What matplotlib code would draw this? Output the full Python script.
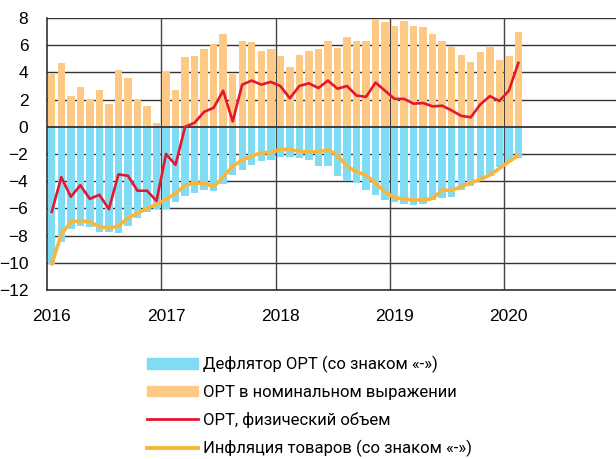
import numpy as np
import matplotlib
matplotlib.use('Agg')
from matplotlib import pyplot as plt
from matplotlib.patches import Patch
from matplotlib.lines import Line2D

# monthly data, Jan 2016 .. Feb 2020
nominal = [3.9, 4.7, 2.3, 2.9, 2.0, 2.7, 1.7, 4.2, 3.6, 2.0, 1.5, 0.3,
           4.0, 2.7, 5.1, 5.2, 5.7, 6.1, 6.8, 3.9, 6.3, 6.2, 5.6, 5.7,
           5.2, 4.4, 5.3, 5.6, 5.7, 6.3, 5.8, 6.6, 6.3, 6.3, 7.95, 7.7,
           7.4, 7.75, 7.4, 7.35, 6.8, 6.3, 5.9, 5.25, 4.8, 5.5, 5.85, 4.9,
           5.2, 7.0]
deflator = [-10.1, -8.5, -7.5, -7.3, -7.35, -7.7, -7.7, -7.8, -7.3, -6.7, -6.3, -6.05,
            -6.05, -5.5, -5.1, -4.9, -4.65, -4.7, -4.2, -3.55, -3.2, -2.8, -2.5, -2.45,
            -2.2, -2.25, -2.3, -2.45, -2.85, -2.9, -3.6, -4.0, -4.1, -4.65, -5.0, -5.4,
            -5.5, -5.65, -5.75, -5.7, -5.4, -5.25, -5.15, -4.65, -4.35, -3.9, -3.6, -2.95,
            -2.5, -2.3]
volume = [-6.25, -3.7, -5.15, -4.3, -5.3, -5.0, -6.05, -3.5, -3.6, -4.7, -4.7, -5.45,
          -2.0, -2.8, 0.0, 0.3, 1.1, 1.4, 2.65, 0.4, 3.1, 3.4, 3.1, 3.3,
          3.0, 2.1, 3.0, 3.2, 2.85, 3.4, 2.8, 3.0, 2.3, 2.2, 3.25, 2.65,
          2.05, 2.05, 1.7, 1.75, 1.5, 1.55, 1.2, 0.8, 0.7, 1.65, 2.25, 1.9,
          2.65, 4.7]
inflation = [-10.1, -7.9, -7.0, -6.9, -7.0, -7.35, -7.45, -7.3, -6.7, -6.35, -6.0, -5.7,
             -5.33, -4.9, -4.3, -4.15, -4.15, -4.4, -3.7, -2.9, -2.45, -2.15, -1.9, -1.9,
             -1.65, -1.67, -1.8, -1.85, -1.85, -1.67, -2.1, -2.9, -3.3, -3.55, -4.15, -4.8,
             -5.2, -5.3, -5.38, -5.38, -5.27, -4.65, -4.68, -4.4, -4.12, -3.87, -3.55, -3.06,
             -2.57, -2.08]
years = ['2016', '2017', '2018', '2019', '2020']

labels = ['Дефлятор ОРТ (со знаком «-»)', 'ОРТ в номинальном выражении',
          'ОРТ, физический объем', 'Инфляция товаров (со знаком «-»)']

c_blue = '#80dbf4'
c_orange = '#fec985'
c_red = '#e5162f'
c_gold = '#fbb53b'

x = np.arange(len(nominal)) + 0.5

fig = plt.figure(figsize=(6.16, 4.59), dpi=100)
ax = fig.add_axes([47/616, 169/459, 569/616, 272/459])

for y in range(-12, 9, 2):
    if y != 0:
        ax.axhline(y, color='#333333', lw=1.0, zorder=0)
for k in range(1, 5):
    ax.axvline(12*k, color='#444444', lw=1.0, zorder=0)

ax.bar(x, deflator, width=0.78, color=c_blue, zorder=1)
ax.bar(x, nominal, width=0.78, color=c_orange, zorder=1)
ax.axhline(0, color='#333333', lw=1.3, zorder=2)
ax.plot(x, volume, color=c_red, lw=1.9, zorder=3)
ax.plot(x, inflation, color=c_gold, lw=2.6, zorder=4, solid_capstyle='round')

ax.set_xlim(0, 59.75)
ax.set_ylim(-12, 8)
ax.set_yticks(range(-12, 9, 2))
ax.set_xticks([0.5, 12.5, 24.5, 36.5, 48.5])
ax.set_xticklabels(years)
ax.tick_params(length=0)
ax.tick_params(axis='y', pad=13.5)
ax.tick_params(axis='x', pad=14)
for t in ax.get_xticklabels() + ax.get_yticklabels():
    t.set_family('Liberation Sans')
    t.set_fontsize(12.5)
for s in ['top', 'right']:
    ax.spines[s].set_visible(False)
for s in ['left', 'bottom']:
    ax.spines[s].set_color('#222222')
    ax.spines[s].set_linewidth(1.1)

handles = [Patch(color=c_blue), Patch(color=c_orange),
           Line2D([], [], color=c_red, lw=2.0),
           Line2D([], [], color=c_gold, lw=2.8)]
fig.legend(handles, labels, loc='upper left', bbox_to_anchor=(140/616, 1 - 349/459),
           frameon=False, prop={'family': 'Roboto', 'size': 12},
           handlelength=3.1, handleheight=0.6, labelspacing=0.72, handletextpad=0.3,
           borderaxespad=0)

fig.savefig('out.png', dpi=100)
